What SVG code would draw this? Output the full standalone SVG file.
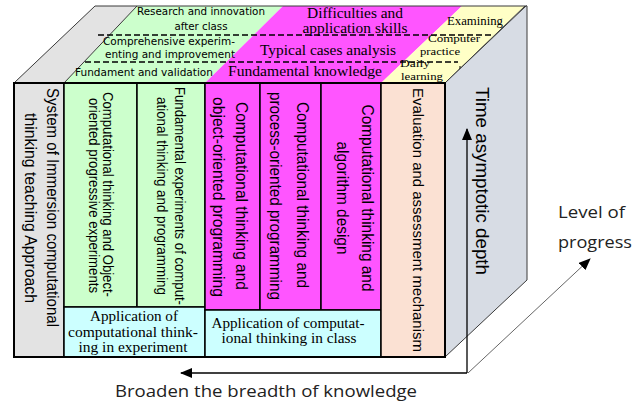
<svg xmlns="http://www.w3.org/2000/svg" width="642" height="404" viewBox="0 0 642 404">
<defs>
<style>
.sans{font-family:"Liberation Sans",Arial,sans-serif;fill:#000}
.dv{font-family:"DejaVu Sans","Liberation Sans",sans-serif;fill:#000}
.ser{font-family:"Liberation Serif","Times New Roman",serif;fill:#000}
.cal{font-family:"Open Sans","Liberation Sans",sans-serif;fill:#222}
.col{stroke:#000;stroke-width:1.5}
.edge{stroke:#3a3a3a;stroke-width:1;fill:none}
.dash{stroke:#000;stroke-width:1.3;stroke-dasharray:6 3;fill:none}
.v{dominant-baseline:central;text-anchor:middle}
</style>
<marker id="ah" viewBox="0 0 12 10" refX="11" refY="5" markerWidth="12" markerHeight="10" markerUnits="userSpaceOnUse" orient="auto">
<path d="M0,0 L12,5 L0,10 Z" fill="#000"/>
</marker>
</defs>
<rect width="642" height="404" fill="#fff"/>

<!-- top face -->
<g id="top-face">
<polygon points="14,83 95,6 137,6 64,83" fill="#e3e3e3"/>
<polygon points="64,83 137,6 283,6 205,83" fill="#ccffcc"/>
<polygon points="205,83 283,6 462,6 381,83" fill="#ff55ff"/>
<polygon points="381,83 462,6 525,6 445,83" fill="#ffffc6"/>
<line class="edge" x1="14" y1="83" x2="95" y2="6"/>
<line class="edge" x1="64" y1="83" x2="137" y2="6"/>
<line class="edge" x1="445" y1="83" x2="525" y2="6"/>
<line class="edge" x1="95" y1="6" x2="527" y2="6"/>
<path class="dash" d="M98,35 H492"/>
<line x1="493" y1="38" x2="493" y2="42" stroke="#000" stroke-width="1"/>
<path class="dash" d="M85,62 H458"/>
<line x1="460" y1="66" x2="460" y2="72" stroke="#000" stroke-width="1"/>
<text class="dv" x="201" y="15" font-size="11" text-anchor="middle" textLength="128" lengthAdjust="spacingAndGlyphs">Research and innovation</text>
<text class="dv" x="201" y="30" font-size="11" text-anchor="middle" textLength="53" lengthAdjust="spacingAndGlyphs">after class</text>
<text class="dv" x="169" y="45" font-size="11" text-anchor="middle" textLength="132" lengthAdjust="spacingAndGlyphs">Comprehensive experim-</text>
<text class="dv" x="170" y="58" font-size="11" text-anchor="middle" textLength="130" lengthAdjust="spacingAndGlyphs">enting and improvement</text>
<text class="dv" x="144" y="76" font-size="11" text-anchor="middle" textLength="138" lengthAdjust="spacingAndGlyphs">Fundament and validation</text>
<text class="ser" x="355" y="18" font-size="15" text-anchor="middle" textLength="96" lengthAdjust="spacingAndGlyphs">Difficulties and</text>
<text class="ser" x="355" y="33" font-size="15" text-anchor="middle" textLength="105" lengthAdjust="spacingAndGlyphs">application skills</text>
<text class="ser" x="328" y="55" font-size="15" text-anchor="middle" textLength="136" lengthAdjust="spacingAndGlyphs">Typical cases analysis</text>
<text class="ser" x="305" y="76" font-size="15" text-anchor="middle" textLength="154" lengthAdjust="spacingAndGlyphs">Fundamental knowledge</text>
<text class="ser" x="475" y="25" font-size="12" text-anchor="middle" textLength="56" lengthAdjust="spacingAndGlyphs">Examining</text>
<text class="ser" x="454" y="42" font-size="10.5" text-anchor="middle" textLength="52" lengthAdjust="spacingAndGlyphs">Computer</text>
<text class="ser" x="440" y="54.5" font-size="10.5" text-anchor="middle" textLength="40" lengthAdjust="spacingAndGlyphs">practice</text>
<text class="ser" x="415" y="67" font-size="10.5" text-anchor="middle" textLength="30" lengthAdjust="spacingAndGlyphs">Daily</text>
<text class="ser" x="422" y="79.5" font-size="10.5" text-anchor="middle" textLength="42" lengthAdjust="spacingAndGlyphs">learning</text>
</g>

<!-- right face -->
<g id="right-face">
<polygon points="445,83 526,6 527,6 527,280 445,357" fill="#d7dce4" stroke="#3a3a3a" stroke-width="1"/>
<text class="sans v" transform="translate(482,181) rotate(90)" font-size="18" textLength="188" lengthAdjust="spacingAndGlyphs">Time asymptotic depth</text>
</g>

<!-- front face -->
<g id="system-panel">
<rect x="14" y="83" width="50" height="274" fill="#e3e3e3" class="col"/>
<text class="sans v" transform="translate(52,207.5) rotate(90)" font-size="16" textLength="239" lengthAdjust="spacingAndGlyphs">System of Immersion computational</text>
<text class="sans v" transform="translate(30,208) rotate(90)" font-size="16" textLength="190" lengthAdjust="spacingAndGlyphs">thinking teaching Approach</text>
</g>

<g id="exp-object">
<rect x="64" y="83" width="73" height="224" fill="#ccffcc" class="col"/>
<text class="sans v" transform="translate(108,194.5) rotate(90)" font-size="14" textLength="205" lengthAdjust="spacingAndGlyphs">Computational thinking and Object-</text>
<text class="sans v" transform="translate(94,195.5) rotate(90)" font-size="14" textLength="195" lengthAdjust="spacingAndGlyphs">oriented progressive experiments</text>
</g>

<g id="exp-fundamental">
<rect x="137" y="83" width="68" height="224" fill="#ccffcc" class="col"/>
<text class="sans v" transform="translate(180,196) rotate(90)" font-size="14" textLength="218" lengthAdjust="spacingAndGlyphs">Fundamental experiments of comput-</text>
<text class="sans v" transform="translate(162,196) rotate(90)" font-size="14" textLength="198" lengthAdjust="spacingAndGlyphs">ational thinking and programming</text>
</g>

<g id="app-experiment">
<rect x="64" y="307" width="141" height="50" fill="#ccffff" class="col"/>
<text class="ser" x="134" y="321" font-size="15" text-anchor="middle" textLength="88" lengthAdjust="spacingAndGlyphs">Application of</text>
<text class="ser" x="133" y="337" font-size="15" text-anchor="middle" textLength="130" lengthAdjust="spacingAndGlyphs">computational think-</text>
<text class="ser" x="133" y="352" font-size="15" text-anchor="middle" textLength="109" lengthAdjust="spacingAndGlyphs">ing in experiment</text>
</g>

<g id="class-object">
<rect x="205" y="83" width="55" height="227" fill="#ff55ff" class="col"/>
<text class="sans v" transform="translate(241,196) rotate(90)" font-size="16" textLength="188" lengthAdjust="spacingAndGlyphs">Computational thinking and</text>
<text class="sans v" transform="translate(218,197) rotate(90)" font-size="16" textLength="200" lengthAdjust="spacingAndGlyphs">object-oriented programming</text>
</g>

<g id="class-process">
<rect x="260" y="83" width="61" height="227" fill="#ff55ff" class="col"/>
<text class="sans v" transform="translate(302,195) rotate(90)" font-size="16" textLength="186" lengthAdjust="spacingAndGlyphs">Computational thinking and</text>
<text class="sans v" transform="translate(275,196) rotate(90)" font-size="16" textLength="208" lengthAdjust="spacingAndGlyphs">process-oriented programming</text>
</g>

<g id="class-algorithm">
<rect x="321" y="83" width="60" height="227" fill="#ff55ff" class="col"/>
<text class="sans v" transform="translate(367,198) rotate(90)" font-size="16" textLength="187" lengthAdjust="spacingAndGlyphs">Computational thinking and</text>
<text class="sans v" transform="translate(342,198) rotate(90)" font-size="16" textLength="113" lengthAdjust="spacingAndGlyphs">algorithm design</text>
</g>

<g id="app-class">
<rect x="205" y="310" width="176" height="47" fill="#ccffff" class="col"/>
<text class="ser" x="288" y="328" font-size="15" text-anchor="middle" textLength="153" lengthAdjust="spacingAndGlyphs">Application of computat-</text>
<text class="ser" x="289" y="343" font-size="15" text-anchor="middle" textLength="135" lengthAdjust="spacingAndGlyphs">ional thinking in class</text>
</g>

<g id="evaluation">
<rect x="381" y="83" width="64" height="274" fill="#fbe1d3" class="col"/>
<text class="sans v" transform="translate(418,220) rotate(90)" font-size="15" textLength="264" lengthAdjust="spacingAndGlyphs">Evaluation and assessment mechanism</text>
</g>

<rect x="14" y="83" width="431" height="274" fill="none" stroke="#000" stroke-width="2"/>

<!-- connectors / axes -->
<g id="connectors">
<line x1="467" y1="373" x2="467" y2="129" stroke="#000" stroke-width="1.3" marker-end="url(#ah)"/>
<line x1="467" y1="373" x2="181" y2="373" stroke="#000" stroke-width="1.3" marker-end="url(#ah)"/>
<line x1="468" y1="373" x2="590" y2="259" stroke="#555" stroke-width="0.9" marker-end="url(#ah)"/>
</g>

<g id="axis-labels">
<text class="cal" x="266" y="397" font-size="16" text-anchor="middle" textLength="302" lengthAdjust="spacingAndGlyphs">Broaden the breadth of knowledge</text>
<text class="cal" x="558" y="218" font-size="16" textLength="67" lengthAdjust="spacingAndGlyphs">Level of</text>
<text class="cal" x="558" y="248" font-size="16" textLength="74" lengthAdjust="spacingAndGlyphs">progress</text>
</g>
</svg>
